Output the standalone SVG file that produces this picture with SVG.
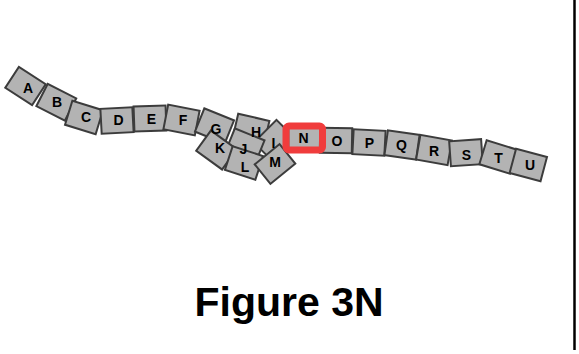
<svg xmlns="http://www.w3.org/2000/svg" width="579" height="354" viewBox="0 0 579 354">
<style>
.t rect{fill:#b3b3b3;stroke:#3c3c3c;stroke-width:2}
.lb text{font-family:"Liberation Sans",Arial,sans-serif;font-weight:bold;font-size:14px;fill:#000;text-anchor:middle}
.hl{fill:none;stroke:#f03c3c;stroke-width:7}
.cap{font-family:"Liberation Sans",Arial,sans-serif;font-weight:bold;font-size:41px;fill:#000;text-anchor:middle}
</style>
<rect width="579" height="354" fill="#fff"/>
<g id="A" class="t"><rect x="-16" y="-12.5" width="32" height="25" transform="translate(25.5,86) rotate(33)"/></g>
<g id="B" class="t"><rect x="-16" y="-12.5" width="32" height="25" transform="translate(56.3,102.3) rotate(27)"/></g>
<g id="C" class="t"><rect x="-16" y="-12.5" width="32" height="25" transform="translate(84,117.5) rotate(17)"/></g>
<g id="D" class="t"><rect x="-16" y="-12.5" width="32" height="25" transform="translate(117,120.5) rotate(-3)"/></g>
<g id="E" class="t"><rect x="-16" y="-12.5" width="32" height="25" transform="translate(150,118.5) rotate(-2)"/></g>
<g id="F" class="t"><rect x="-16" y="-12.5" width="32" height="25" transform="translate(181.5,120) rotate(11)"/></g>
<g id="G" class="t"><rect x="-16" y="-12.5" width="32" height="25" transform="translate(214.5,126) rotate(22)"/></g>
<g id="H" class="t"><rect x="-16" y="-12.5" width="32" height="25" transform="translate(251,129.5) rotate(13)"/></g>
<g id="I" class="t"><rect x="-16" y="-12.5" width="32" height="25" transform="translate(274,140) rotate(-45)"/></g>
<g id="J" class="t"><rect x="-16" y="-12.5" width="32" height="25" transform="translate(245,146) rotate(22)"/></g>
<g id="K" class="t"><rect x="-16" y="-12.5" width="32" height="25" transform="translate(216.5,150) rotate(36)"/></g>
<g id="L" class="t"><rect x="-16" y="-12.5" width="32" height="25" transform="translate(244,163) rotate(18)"/></g>
<g id="M" class="t"><rect x="-16" y="-12.5" width="32" height="25" transform="translate(275,164) rotate(-39)"/></g>
<g id="N" class="t"><rect x="-16" y="-12.5" width="32" height="25" transform="translate(304.3,138)"/></g>
<g id="O" class="t"><rect x="-16" y="-12.5" width="32" height="25" transform="translate(336,140.5) rotate(1)"/></g>
<g id="P" class="t"><rect x="-16" y="-12.5" width="32" height="25" transform="translate(369,142.5) rotate(3)"/></g>
<g id="Q" class="t"><rect x="-16" y="-12.5" width="32" height="25" transform="translate(402,145) rotate(8)"/></g>
<g id="R" class="t"><rect x="-16" y="-12.5" width="32" height="25" transform="translate(434,150) rotate(10)"/></g>
<g id="S" class="t"><rect x="-16" y="-12.5" width="32" height="25" transform="translate(466,152.7) rotate(-4)"/></g>
<g id="T" class="t"><rect x="-16" y="-12.5" width="32" height="25" transform="translate(498.3,157) rotate(17)"/></g>
<g id="U" class="t"><rect x="-16" y="-12.5" width="32" height="25" transform="translate(528.3,165) rotate(15)"/></g>
<g id="highlight"><rect class="hl" x="286" y="126" width="36.5" height="24" rx="3"/></g>
<g id="labels" class="lb">
<text x="28" y="93">A</text><text x="57" y="107">B</text><text x="86" y="122">C</text><text x="118.5" y="125">D</text><text x="151.5" y="124">E</text><text x="183" y="125">F</text><text x="216" y="134">G</text><text x="256" y="137">H</text><text x="273.5" y="148">I</text><text x="243.5" y="154">J</text><text x="220" y="153">K</text><text x="245" y="172">L</text><text x="275" y="167">M</text><text x="303.5" y="143">N</text><text x="337" y="146">O</text><text x="369.5" y="148">P</text><text x="401.5" y="150">Q</text><text x="434" y="156">R</text><text x="466.5" y="160">S</text><text x="498.5" y="163">T</text><text x="530" y="170">U</text>
</g>
<g id="connectors"/>
<line x1="574.5" y1="0" x2="574.5" y2="350" stroke="#000" stroke-width="2.5"/>
<text class="cap" x="289" y="316">Figure 3N</text>
</svg>
